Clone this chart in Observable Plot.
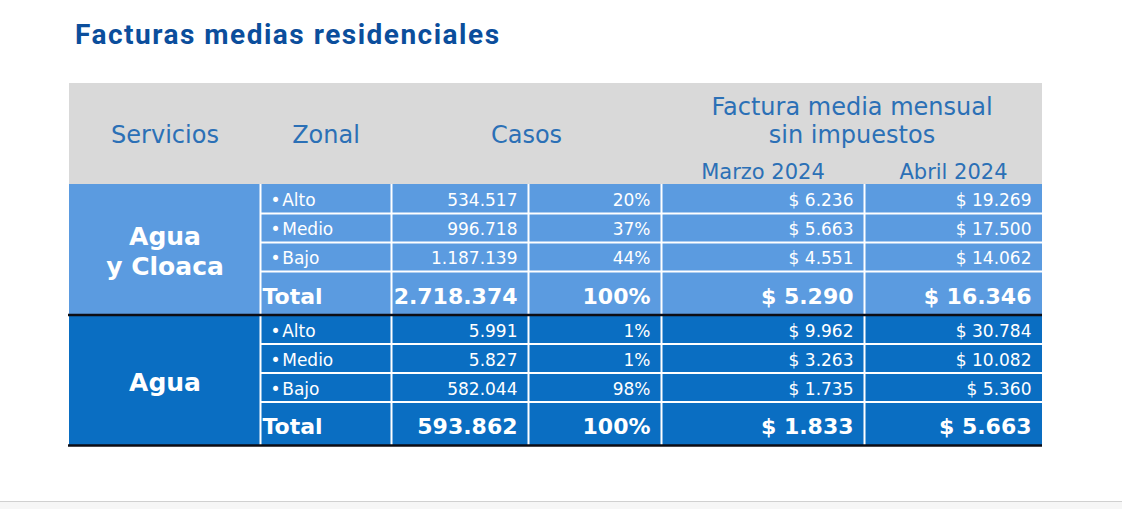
<!DOCTYPE html>
<html>
<head>
<meta charset="utf-8">
<script src="https://cdn.jsdelivr.net/npm/d3@7"></script>
<script src="https://cdn.jsdelivr.net/npm/@observablehq/plot@0.6"></script>
<style>
  html, body { margin: 0; padding: 0; background: #fff; }
  #wrap { position: relative; width: 1122px; height: 509px; overflow: hidden; background: #fff; }
  #title { position: absolute; left: 75px; top: 20px; margin: 0; font: 700 28px/30px Roboto, sans-serif; color: #0b4e9c; white-space: nowrap; letter-spacing: 1.5px; }
  #chart { position: absolute; left: 0; top: 60px; }
  #footer { position: absolute; left: 0; top: 501px; width: 1122px; height: 8px; border-top: 1px solid #d0d0d0; background: #f6f6f6; }
</style>
</head>
<body>
<div id="wrap">
  <h2 id="title"></h2>
  <div id="chart"></div>
  <div id="footer"></div>
</div>
<script>
// ---------- DATA ----------
const title = "Facturas medias residenciales";
const headers = ["Servicios", "Zonal", "Casos", "Factura media mensual\nsin impuestos"];
const periodos = ["Marzo 2024", "Abril 2024"];
const servicios = ["Agua\ny Cloaca", "Agua"];
const zonas = ["Alto", "Medio", "Bajo"];
const totalLabel = "Total";
const casos = [[534517, 996718, 1187139, 2718374], [5991, 5827, 582044, 593862]];
const participacion = [[20, 37, 44, 100], [1, 1, 98, 100]];
const marzo2024 = [[6236, 5663, 4551, 5290], [9962, 3263, 1735, 1833]];
const abril2024 = [[19269, 17500, 14062, 16346], [30784, 10082, 5360, 5663]];

// ---------- LAYOUT / STYLE ----------
const colWidths = [191, 131, 137, 133, 203, 178];
const headerH = 101, rowH = 29, totalH = 43.5;
const groupH = 3 * rowH + totalH;
const W = d3.sum(colWidths);
const tableH = headerH + servicios.length * groupH;
const bounds = [0, ...d3.cumsum(colWidths)];
const center = (a, b) => (bounds[a] + bounds[b]) / 2;
const groupFill = ["#5b9be0", "#0a6ec2"];
const headFill = "#d9d9d9";
const headText = "#2b70b6";
const FONT = "DejaVu Sans, Verdana, sans-serif";
const pad = 11;

document.getElementById("title").textContent = title;

const loc = d3.formatLocale({decimal: ",", thousands: ".", grouping: [3], currency: ["$ ", ""]});
const fmtN = loc.format(",d");
const fmtM = v => "$ " + fmtN(v);
const fmtP = v => v + "%";

// Build table rows from data
const rows = [];
servicios.forEach((s, g) => {
  const gTop = headerH + g * groupH;
  for (let i = 0; i < 4; i++) {
    const isTotal = i === 3;
    const top = gTop + i * rowH;
    rows.push({
      g, i, isTotal, top, bottom: top + (isTotal ? totalH : rowH),
      ty: top + (isTotal ? 25 : 16.5),
      label: isTotal ? totalLabel : "\u2022\u200a" + zonas[i],
      casos: casos[g][i], pct: participacion[g][i], marzo: marzo2024[g][i], abril: abril2024[g][i]
    });
  }
});
const groups = servicios.map((s, g) => ({g, name: s, top: headerH + g * groupH, bottom: headerH + (g + 1) * groupH}));
const small = rows.filter(d => !d.isTotal);
const totals = rows.filter(d => d.isTotal);
const innerLines = rows.filter(d => d.i > 0);

const headerCells = [
  {t: headers[0], x: center(0, 1), y: 52.3},
  {t: headers[1], x: center(1, 2), y: 52.3},
  {t: headers[2], x: center(2, 4), y: 52.3},
];

const numCols = [
  {key: "casos", fmt: fmtN, c: 3},
  {key: "pct", fmt: fmtP, c: 4},
  {key: "marzo", fmt: fmtM, c: 5},
  {key: "abril", fmt: fmtM, c: 6},
];

const numMarks = numCols.flatMap(col => [
  Plot.text(small, {x: bounds[col.c] - pad, y: "ty", text: d => col.fmt(d[col.key]), textAnchor: "end",
    fill: "white", fontSize: 17, fontFamily: FONT}),
  Plot.text(totals, {x: bounds[col.c] - pad, y: "ty", text: d => col.fmt(d[col.key]), textAnchor: "end",
    fill: "white", fontSize: 22, fontWeight: "bold", fontFamily: FONT})
]);

const chart = Plot.plot({
  width: 1122,
  height: 441,
  margin: 0,
  x: {type: "linear", domain: [0, W], range: [69, 69 + W], axis: null},
  y: {type: "linear", domain: [0, tableH], range: [23, 23 + tableH], axis: null},
  style: {background: "transparent"},
  marks: [
    Plot.rect([{}], {x1: 0, x2: W, y1: 0, y2: headerH, fill: headFill}),
    Plot.rect(groups, {x1: 0, x2: W, y1: "top", y2: "bottom", fill: d => groupFill[d.g]}),
    Plot.ruleX(bounds.slice(1, -1), {x: d => d, y1: headerH, y2: tableH, stroke: "white", strokeWidth: 2}),
    Plot.ruleY(innerLines, {y: "top", x1: bounds[1], x2: W, stroke: "white", strokeWidth: 2}),
    Plot.ruleY(groups, {y: "bottom", x1: -1, x2: W, stroke: "#0d0d14", strokeWidth: 2.5}),
    // header
    Plot.text(headerCells, {x: "x", y: "y", text: "t", fill: headText, fontSize: 24, fontFamily: FONT}),
    Plot.text([headers[3]], {x: center(4, 6), y: 37, text: d => d, fill: headText, fontSize: 24, lineHeight: 1.1667, fontFamily: FONT}),
    Plot.text(periodos, {x: (d, i) => center(4 + i, 5 + i), y: 88.5, text: d => d, fill: headText, fontSize: 21, fontFamily: FONT}),
    // servicios
    Plot.text(groups, {x: center(0, 1), y: d => d.g === 0 ? 167 : 298, text: "name", fill: "white", fontSize: 25,
      fontWeight: "bold", lineHeight: 1.2, fontFamily: FONT}),
    // zonal
    Plot.text(small, {x: bounds[1] + 10, y: "ty", text: "label", textAnchor: "start", fill: "white", fontSize: 17, fontFamily: FONT}),
    Plot.text(totals, {x: bounds[1] + 2, y: "ty", text: "label", textAnchor: "start", fill: "white", fontSize: 22, fontWeight: "bold", fontFamily: FONT}),
    ...numMarks
  ]
});
document.getElementById("chart").appendChild(chart);
</script>
</body>
</html>
